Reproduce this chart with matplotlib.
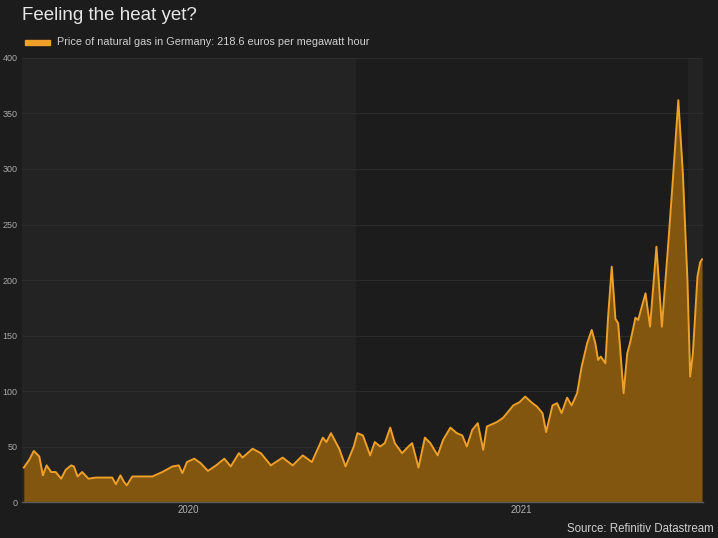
import matplotlib
matplotlib.use("Agg")
import matplotlib.pyplot as plt
import pandas as pd

plt.rcParams['font.family'] = ['Liberation Sans', 'DejaVu Sans']

title = "Feeling the heat yet?"
series_label = "Price of natural gas in Germany: 218.6 euros per megawatt hour"
source = "Source: Refinitiv Datastream"

dates = [
    "2020-01-03", "2020-01-09", "2020-01-14", "2020-01-20", "2020-01-24", "2020-01-28",
    "2020-02-02", "2020-02-07", "2020-02-13", "2020-02-18", "2020-02-24", "2020-02-27",
    "2020-03-02", "2020-03-07", "2020-03-14", "2020-03-22", "2020-04-02", "2020-04-09",
    "2020-04-13", "2020-04-18", "2020-04-22", "2020-04-25", "2020-05-01", "2020-05-12",
    "2020-05-23", "2020-06-03", "2020-06-14", "2020-06-21", "2020-06-25", "2020-06-30",
    "2020-07-08", "2020-07-15", "2020-07-23", "2020-08-01", "2020-08-10", "2020-08-17",
    "2020-08-26", "2020-08-30", "2020-09-10", "2020-09-19", "2020-09-30", "2020-10-13",
    "2020-10-24", "2020-11-04", "2020-11-14", "2020-11-26", "2020-11-30", "2020-12-05",
    "2020-12-14", "2020-12-21", "2020-12-30",
    "2021-01-03", "2021-01-09", "2021-01-17", "2021-01-22", "2021-01-28", "2021-02-02",
    "2021-02-08", "2021-02-13", "2021-02-21", "2021-02-28", "2021-03-04", "2021-03-11",
    "2021-03-18", "2021-03-24", "2021-04-01", "2021-04-07", "2021-04-15", "2021-04-22",
    "2021-04-28", "2021-05-03", "2021-05-09", "2021-05-15", "2021-05-21", "2021-05-25",
    "2021-06-05", "2021-06-12", "2021-06-23", "2021-06-30", "2021-07-06", "2021-07-14",
    "2021-07-19", "2021-07-25", "2021-07-29", "2021-08-05", "2021-08-10", "2021-08-15",
    "2021-08-21", "2021-08-26", "2021-09-01", "2021-09-06", "2021-09-12", "2021-09-17",
    "2021-09-21", "2021-09-24", "2021-09-27", "2021-10-02", "2021-10-05", "2021-10-09",
    "2021-10-13", "2021-10-16", "2021-10-22", "2021-10-26", "2021-10-29", "2021-11-04",
    "2021-11-07", "2021-11-15", "2021-11-20", "2021-11-27", "2021-12-03", "2021-12-10",
    "2021-12-15", "2021-12-21", "2021-12-26", "2021-12-31",
    "2022-01-03", "2022-01-06", "2022-01-11", "2022-01-14", "2022-01-16",
]
prices = [
    31, 38, 46, 41, 24, 33,
    27, 27, 21, 29, 33, 32,
    23, 27, 21, 22, 22, 22,
    16, 24, 18, 15, 23, 23,
    23, 27, 32, 33, 26, 36,
    39, 35, 28, 33, 39, 32,
    44, 40, 48, 44, 33, 40,
    33, 42, 36, 58, 54, 62,
    48, 32, 50,
    62, 60, 42, 54, 50, 53,
    67, 53, 44, 50, 53, 31,
    58, 53, 42, 56, 67, 62,
    60, 50, 65, 71, 47, 68,
    72, 76, 87, 90, 95, 89,
    86, 80, 63, 87, 89, 80,
    94, 87, 98, 122, 143, 155,
    143, 128, 131, 125, 167, 212,
    165, 161, 98, 134, 143, 166,
    164, 188, 158, 230, 158, 233,
    290, 362, 296, 200,
    113, 134, 203, 216, 218.6,
]
year_labels = ["2020", "2021"]
y_ticks = [0, 50, 100, 150, 200, 250, 300, 350, 400]

x = pd.to_datetime(dates)

BG = "#1c1c1c"
BAND = "#232323"
LINE = "#eea028"
FILL = "#82560f"

fig = plt.figure(figsize=(7.18, 5.38), dpi=100, facecolor=BG)
ax = fig.add_axes([0.0306, 0.0669, 0.9484, 0.8253], facecolor=BG)

xmin = pd.Timestamp("2020-01-01")
xmax = pd.Timestamp("2022-01-17")
# alternating year shading
ax.axvspan(pd.Timestamp("2020-01-01"), pd.Timestamp("2021-01-01"), color=BAND, zorder=0, lw=0)
ax.axvspan(pd.Timestamp("2022-01-01"), xmax, color=BAND, zorder=0, lw=0)

ax.set_ylim(0, 400)
ax.set_xlim(xmin, xmax)
ax.set_yticks(y_ticks)
ax.yaxis.grid(True, color="#2c2c2c", lw=0.8, zorder=1)
ax.xaxis.grid(False)

ax.fill_between(x, prices, 0, color=FILL, lw=0, zorder=2)
ax.plot(x, prices, color=LINE, lw=1.4, zorder=3, solid_joinstyle="round")

mid_years = [pd.Timestamp(f"{y}-07-02") for y in year_labels]
ax.set_xticks(mid_years)
ax.set_xticklabels(year_labels)
ax.tick_params(axis="x", length=0, colors="#b0b0b0", labelsize=7, pad=2)
ax.tick_params(axis="y", length=0, colors="#a8a8a8", labelsize=6.5, pad=3)

for s in ["top", "right", "left"]:
    ax.spines[s].set_visible(False)
ax.spines["bottom"].set_color("#5a5a5a")
ax.spines["bottom"].set_linewidth(1.0)

fig.text(22 / 718, 1 - 16 / 538, title, color="#e6e6e6", fontsize=13.5,
         ha="left", va="center")
# legend swatch
fig.patches.append(plt.Rectangle((25 / 718, 1 - 45 / 538), 25 / 718, 5 / 538,
                                 transform=fig.transFigure, color=LINE, zorder=5))
fig.text(57 / 718, 1 - 42 / 538, series_label, color="#d0d0d0", fontsize=7.8,
         ha="left", va="center")
fig.text(714 / 718, 1 - 529 / 538, source, color="#d0d0d0", fontsize=8.3,
         ha="right", va="center")

fig.savefig("out.png", dpi=100, facecolor=BG)
